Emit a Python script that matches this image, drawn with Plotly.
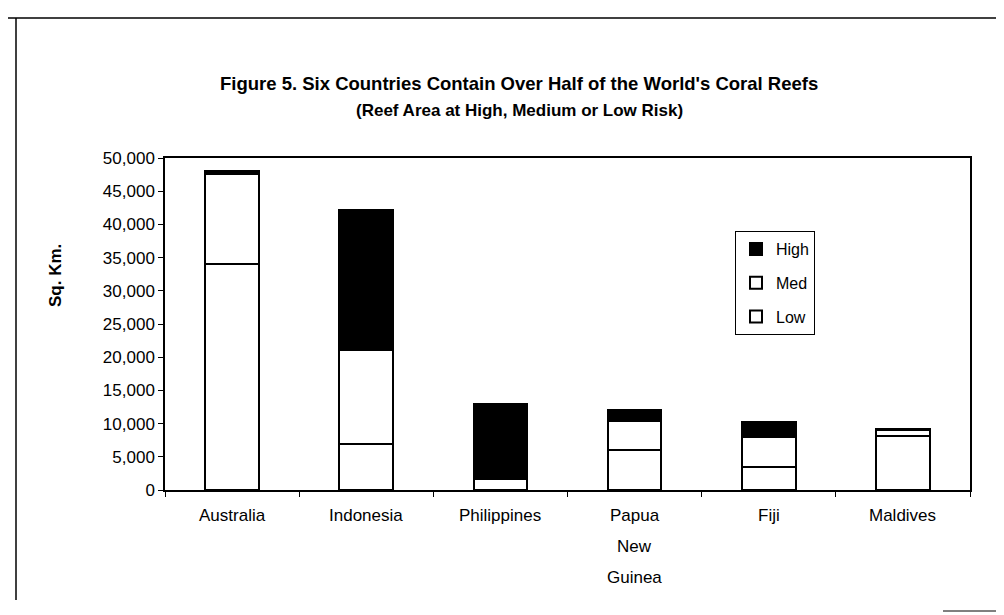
import plotly.graph_objects as go

countries = ["Australia", "Indonesia", "Philippines", "Papua New Guinea", "Fiji", "Maldives"]
tick_labels = [["Australia"], ["Indonesia"], ["Philippines"], ["Papua", "New", "Guinea"], ["Fiji"], ["Maldives"]]
low = [34000, 7000, 1700, 6100, 3500, 8100]
med = [13600, 14100, 0, 4300, 4500, 1000]
high = [500, 21100, 11300, 1700, 2200, 150]
y_ticks = list(range(0, 50001, 5000))

FONT = "Liberation Sans, Arial, sans-serif"

L, R, T, B = 157, 42, 150, 133
W, H = 1004, 615
pw = W - L - R
ph = H - T - B

def px(x):
    return (x - L) / pw

def py(y):
    return (H - B - y) / ph

fig = go.Figure()
for name, vals, col, rank in [("Low", low, "white", 3), ("Med", med, "white", 2), ("High", high, "black", 1)]:
    fig.add_trace(go.Bar(
        x=countries, y=vals, name=name, legendgroup=name, legendrank=rank,
        marker=dict(color=col, line=dict(color="black", width=2)),
    ))

annotations = [
    dict(text="<b>Figure 5. Six Countries Contain Over Half of the World's Coral Reefs</b>",
         xref="paper", yref="paper", x=px(511), y=py(76), showarrow=False,
         xanchor="center", yanchor="middle", font=dict(size=18.5, family=FONT, color="black")),
    dict(text="<b>(Reef Area at High, Medium or Low Risk)</b>",
         xref="paper", yref="paper", x=px(511), y=py(102), showarrow=False,
         xanchor="center", yanchor="middle", font=dict(size=17, family=FONT, color="black")),
    dict(text="<b>Sq. Km.</b>", textangle=-90,
         xref="paper", yref="paper", x=px(47), y=py(268), showarrow=False,
         xanchor="center", yanchor="middle", font=dict(size=17, family=FONT, color="black")),
]
for c, lines in zip(countries, tick_labels):
    for i, ln in enumerate(lines):
        annotations.append(dict(text=ln, xref="x", yref="paper", x=c, y=0,
                                yshift=-25 - 31 * i, showarrow=False,
                                xanchor="center", yanchor="middle",
                                font=dict(size=17, family=FONT, color="black")))

shapes = [
    dict(type="line", xref="paper", yref="paper", x0=px(0), x1=px(1004), y0=py(10), y1=py(10),
         line=dict(color="black", width=1.5)),
    dict(type="line", xref="paper", yref="paper", x0=px(8), x1=px(8), y0=py(10), y1=py(592),
         line=dict(color="black", width=1.5)),
    dict(type="line", xref="paper", yref="paper", x0=px(935), x1=px(1004), y0=py(603), y1=py(603),
         line=dict(color="black", width=1)),
]

fig.update_layout(
    width=W, height=H,
    margin=dict(l=L, r=R, t=T, b=B),
    paper_bgcolor="white", plot_bgcolor="white",
    barmode="stack", bargap=0.6,
    font=dict(family=FONT, size=17, color="black"),
    annotations=annotations, shapes=shapes,
    legend=dict(x=px(727), y=py(223), xanchor="left", yanchor="top",
                traceorder="grouped", tracegroupgap=10, itemwidth=30,
                bordercolor="black", borderwidth=1, bgcolor="white",
                font=dict(size=16, family=FONT, color="black")),
    xaxis=dict(showticklabels=False, showline=True, linecolor="black", linewidth=1.5,
               mirror=True, ticks="outside", tickson="boundaries", ticklen=5,
               tickcolor="black", showgrid=False),
    yaxis=dict(range=[0, 50000], tickvals=y_ticks, tickformat=",d",
               showline=True, linecolor="black", linewidth=1.5, mirror=True,
               ticks="outside", ticklen=5, tickcolor="black", showgrid=False,
               zeroline=False, tickfont=dict(size=17, family=FONT, color="black")),
)

fig.write_html("out.html")
